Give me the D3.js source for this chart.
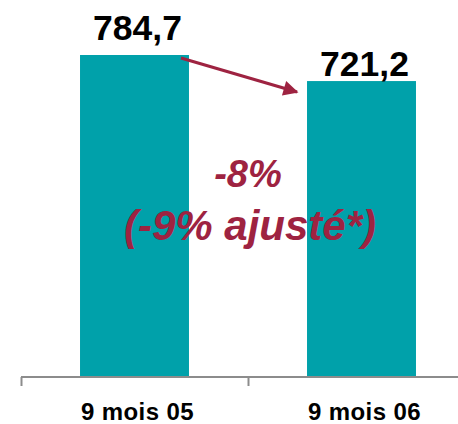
<!DOCTYPE html>
<html><head><meta charset="utf-8">
<script src="https://cdn.jsdelivr.net/npm/d3@7"></script>
<style>body{margin:0;background:#fff}svg{display:block}</style>
</head><body>
<script>
const categories = ["9 mois 05", "9 mois 06"];
const values = [784.7, 721.2];
const valueLabels = ["784,7", "721,2"];
const changeLines = ["-8%", "(-9% ajusté*)"];

const W = 458, H = 424;
const teal = "#00A1AA", red = "#9E2341";
const svg = d3.select("body").append("svg").attr("width", W).attr("height", H);

const x = d3.scaleBand().domain(categories).range([21, 475]).padding(0);
const y = d3.scaleLinear().domain([0, 784.7]).range([377, 55]);
const barW = x.bandwidth() * 0.48;
const cx = c => x(c) + x.bandwidth() / 2;

svg.selectAll("rect.bar").data(values).join("rect")
  .attr("class", "bar")
  .attr("x", (d, i) => cx(categories[i]) - barW / 2)
  .attr("width", barW)
  .attr("y", d => y(d))
  .attr("height", d => y(0) - y(d))
  .attr("fill", teal);

// axis
const ax = svg.append("g").attr("stroke", "#8c8c8c").attr("stroke-width", 2);
ax.append("line").attr("x1", 21).attr("x2", W).attr("y1", 377).attr("y2", 377);
ax.selectAll("line.tick").data(categories).join("line")
  .attr("class", "tick")
  .attr("x1", d => x(d) + 0.5).attr("x2", d => x(d) + 0.5)
  .attr("y1", 377).attr("y2", 386);

svg.selectAll("text.cat").data(categories).join("text")
  .attr("class", "cat")
  .attr("x", d => cx(d) + 3)
  .attr("y", 420)
  .attr("text-anchor", "middle")
  .attr("font-family", "Liberation Sans, Arial, sans-serif")
  .attr("font-weight", "bold")
  .attr("font-size", 24)
  .attr("letter-spacing", 0.4)
  .text(d => d);

const gaps = [15, 5];
svg.selectAll("text.val").data(values).join("text")
  .attr("class", "val")
  .attr("x", (d, i) => cx(categories[i]) + 3)
  .attr("y", (d, i) => y(d) - gaps[i])
  .attr("text-anchor", "middle")
  .attr("font-family", "Liberation Sans, Arial, sans-serif")
  .attr("font-weight", "bold")
  .attr("font-size", 35.5)
  .text((d, i) => valueLabels[i]);

// arrow
const defs = svg.append("defs");
defs.append("marker").attr("id", "ah").attr("viewBox", "0 0 10 10")
  .attr("refX", 9).attr("refY", 5).attr("markerWidth", 6.5).attr("markerHeight", 5)
  .attr("markerUnits", "strokeWidth").attr("orient", "auto")
  .append("path").attr("d", "M0,0 L10,5 L0,10 z").attr("fill", red);
const x1 = cx(categories[0]) + barW / 2 - 8, y1 = y(values[0]) + 3;
const x2 = cx(categories[1]) - barW / 2 - 10, y2 = y(values[1]) + 11;
svg.append("line").attr("x1", x1).attr("y1", y1).attr("x2", x2).attr("y2", y2)
  .attr("stroke", red).attr("stroke-width", 3).attr("marker-end", "url(#ah)");

const sizes = [38, 42];
const baselines = [187, 240];
svg.selectAll("text.chg").data(changeLines).join("text")
  .attr("class", "chg")
  .attr("x", (d, i) => [248, 250][i])
  .attr("y", (d, i) => baselines[i])
  .attr("text-anchor", "middle")
  .attr("font-family", "Liberation Sans, Arial, sans-serif")
  .attr("font-weight", "bold")
  .attr("font-style", "italic")
  .attr("font-size", (d, i) => sizes[i])
  .attr("fill", red)
  .text(d => d);
</script>
</body></html>
